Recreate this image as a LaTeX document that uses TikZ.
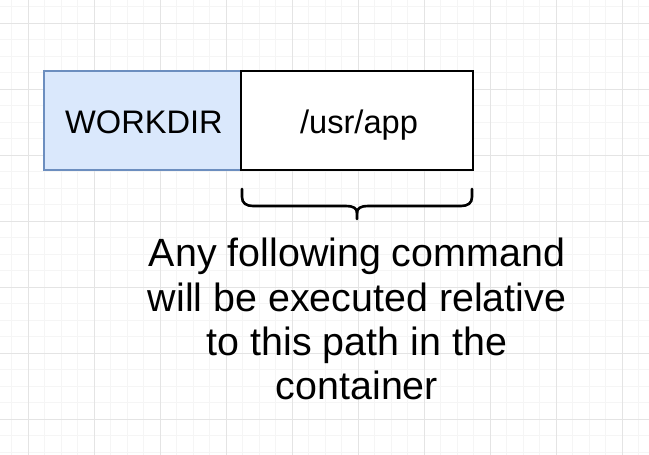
\documentclass[tikz,border=0pt]{standalone}
\usepackage{fontspec}
\setmainfont{Liberation Sans}
\definecolor{gridminor}{HTML}{F5F5F5}
\definecolor{gridmajor}{HTML}{E4E4E4}
\definecolor{wdfill}{HTML}{DAE8FC}
\definecolor{wdline}{HTML}{6C8EBF}
\begin{document}
\begin{tikzpicture}[x=1pt,y=-1pt,
  minorline/.style={draw=gridminor,line width=1pt},
  majorline/.style={draw=gridmajor,line width=1pt},
  wdbox/.style={draw=wdline,fill=wdfill,line width=2pt,minimum width=197pt,minimum height=99pt,inner sep=0pt,outer sep=0pt},
  appbox/.style={draw=black,fill=white,line width=2.6pt,minimum width=232pt,minimum height=99pt,inner sep=0pt,outer sep=0pt},
  boxlabel/.style={font=\fontsize{32.6}{36}\selectfont,anchor=base,inner sep=0pt},
  bracestyle/.style={draw=black,line width=2.6pt,line cap=round,line join=round},
  caption/.style={font=\fontsize{39.4}{44.4}\selectfont,align=center,anchor=north,inner sep=0pt}]
\useasboundingbox (0,0) rectangle (649,455);
\fill[white] (0,0) rectangle (649,455);
% grid
\foreach \i in {-1,...,39} {
  \pgfmathsetmacro{\gx}{28+16.5*\i}
  \path[minorline] (\gx,0) -- (\gx,455);
}
\foreach \i in {-1,...,27} {
  \pgfmathsetmacro{\gy}{23+16.5*\i}
  \path[minorline] (0,\gy) -- (649,\gy);
}
\foreach \i in {0,...,9} {
  \pgfmathsetmacro{\gx}{28+66*\i}
  \path[majorline] (\gx,0) -- (\gx,455);
}
\foreach \i in {0,...,6} {
  \pgfmathsetmacro{\gy}{23+66*\i}
  \path[majorline] (0,\gy) -- (649,\gy);
}
% boxes
\node[wdbox] (workdir) at (142.5,120.5) {};
\node[appbox] (app) at (357,120.5) {};
\node[boxlabel] (wdtext) at (144,133) {WORKDIR};
\node[boxlabel] (apptext) at (359,133) {/usr/app};
% brace
\coordinate (bl) at (242,189);
\coordinate (br) at (472,189);
\coordinate (bm) at (357,219);
\draw[bracestyle] (bl) -- (242,197) .. controls (242,203) and (246,206) .. (253,206)
  -- (346,206) .. controls (353,206) and (357,208) .. (357,213) -- (bm);
\draw[bracestyle] (br) -- (472,197) .. controls (472,203) and (468,206) .. (461,206)
  -- (368,206) .. controls (361,206) and (357,208) .. (357,213);
% caption
\node[caption] (note) at (357,238) {Any following command\\will be executed relative\\to this path in the\\container};
\end{tikzpicture}
\end{document}
